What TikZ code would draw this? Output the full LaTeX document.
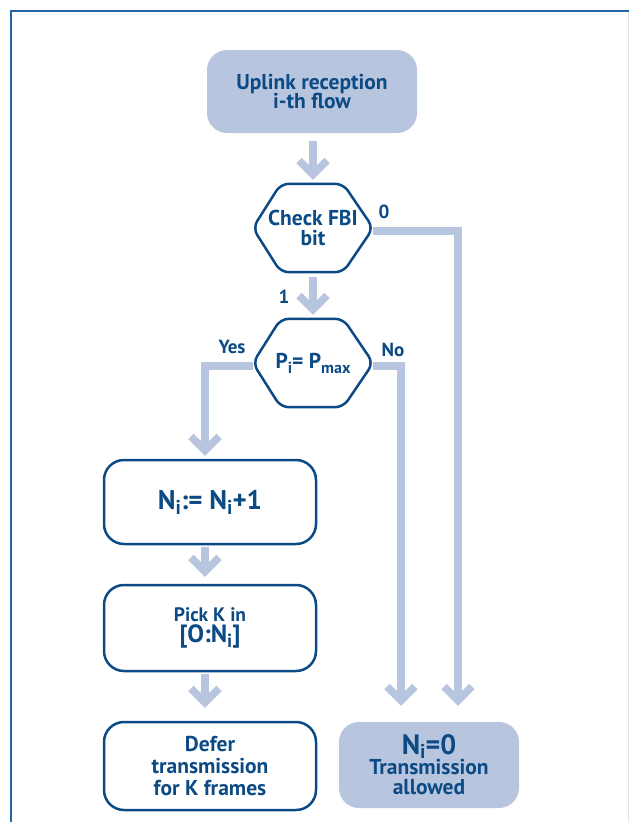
\documentclass[tikz,border=0pt]{standalone}
\usepackage{fontspec}
\setmainfont{PT Sans}
\usetikzlibrary{arrows.meta}
\definecolor{navy}{HTML}{0B4A84}
\definecolor{lb}{HTML}{B8C5DE}
\definecolor{framec}{HTML}{2565A3}
\definecolor{faint}{HTML}{DCE5F0}
\newcommand\lowsub[3][16]{\raisebox{-#2}{\fontsize{#1}{#1}\selectfont #3}}
\begin{document}
\begin{tikzpicture}[x=1pt,y=-1pt,
  every node/.style={text=navy, font=\bfseries\fontsize{21.5}{21}\selectfont},
  procbox/.style={draw=navy, line width=2.5pt, rounded corners=20pt, align=center,
    inner sep=0pt, minimum width=212pt, minimum height=84pt},
  fillbox/.style={fill=lb, draw=none, rounded corners=20pt, align=center, inner sep=0pt},
  hexnode/.style={minimum width=120pt, minimum height=88pt, inner sep=0pt, align=center},
  hexline/.style={draw=navy, line width=2.5pt, rounded corners=8pt},
  flow/.style={draw=lb, line width=7.5pt, -{Straight Barb[sharp, length=14pt, width=28pt]}},
  lbl/.style={font=\bfseries\fontsize{19}{19}\selectfont}
]
\useasboundingbox (0,0) rectangle (629,822);
% frame
\draw[framec, line width=2pt] (11,822) -- (11,11) -- (629,11);
\draw[faint, line width=1pt] (628,12) -- (628,822);

% nodes
\node[fillbox, minimum width=210pt, minimum height=83pt] (up) at (312,91.5) {Uplink reception\\[-2pt]i-th flow};
\node[hexnode] (h1) at (313,228) {Check FBI\\[-1pt]bit};
\node[hexnode] (h2) at (313,363) {P\lowsub{5pt}{i}= P\lowsub{5pt}{max}};
\node[procbox] (n1) at (210,502) {\fontsize{27}{27}\selectfont N\lowsub[20]{5pt}{i}:= N\lowsub[20]{5pt}{i}+1};
\node[procbox, minimum height=86pt] (pk) at (210,628) {\fontsize{19.5}{20}\selectfont Pick K in\\[0pt]{\fontsize{25}{25}\selectfont [O:N\lowsub[19]{5pt}{i}]}};
\node[procbox, minimum height=88pt] (df) at (210,766) {Defer\\[1pt]transmission\\[1pt]for K frames};
\node[fillbox, minimum width=180pt, minimum height=86pt] (al) at (429,765) {{\fontsize{28}{28}\selectfont N\lowsub[20]{3.5pt}{i}=0}\\[-1pt]Transmission\\[-1pt]allowed};

% hexagon outlines
\draw[hexline] (h1.north) -- ([xshift=-30pt]h1.north east) -- (h1.east) -- ([xshift=-30pt]h1.south east)
  -- ([xshift=28pt]h1.south west) -- (h1.west) -- ([xshift=28pt]h1.north west) -- cycle;
\draw[hexline] (h2.north) -- ([xshift=-30pt]h2.north east) -- (h2.east) -- ([xshift=-30pt]h2.south east)
  -- ([xshift=28pt]h2.south west) -- (h2.west) -- ([xshift=28pt]h2.north west) -- cycle;

% labels
\node[lbl] (l0) at (384,212) {0};
\node[lbl] (l1) at (284,297) {1};
\node[lbl] (lyes) at (232,347) {Yes};
\node[lbl] (lno) at (393,350) {No};

% connectors
\draw[flow, shorten <=8pt, shorten >=4pt] ([xshift=1pt]up.south) -- (h1.north);
\draw[flow, shorten <=5pt, shorten >=4pt] (h1.south) -- (h2.north);
\draw[flow, shorten >=16pt] ([yshift=-3pt]h1.east) -| ([xshift=29pt]al.north);
\draw[flow, shorten >=16pt] ([yshift=-3pt]h2.east) -| ([xshift=-28pt]al.north);
\draw[flow, shorten >=3pt] ([yshift=-3pt]h2.west) -| ([xshift=-5pt]n1.north);
\draw[flow, shorten <=2pt, shorten >=7pt] ([xshift=-5pt]n1.south) -- ([xshift=-5pt]pk.north);
\draw[flow, shorten <=2pt, shorten >=13pt] ([xshift=-5pt]pk.south) -- ([xshift=-5pt]df.north);
\end{tikzpicture}
\end{document}
